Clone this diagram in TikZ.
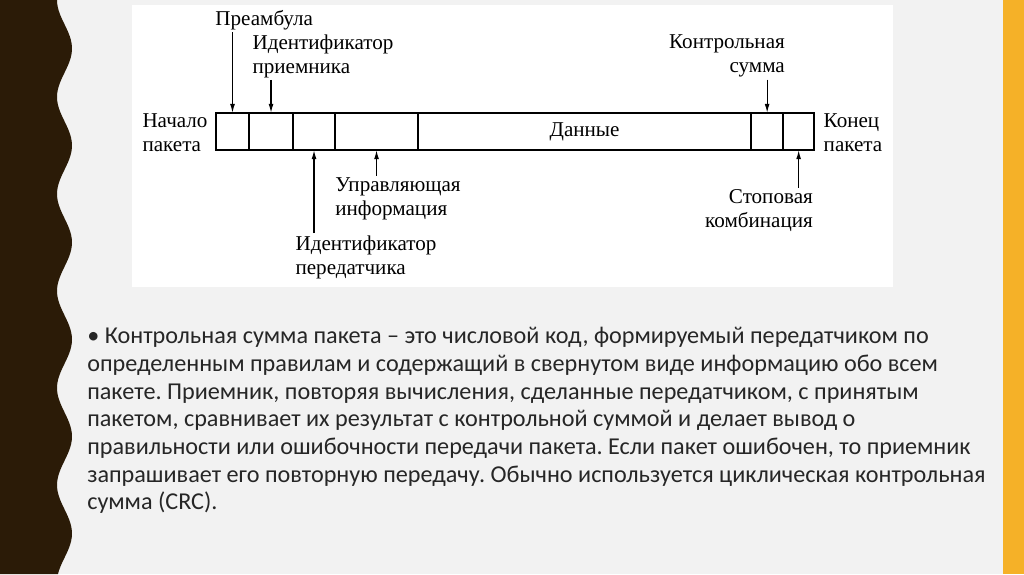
\documentclass[tikz,border=0pt]{standalone}
\usepackage{fontspec}
\setmainfont{Liberation Serif}
\newfontfamily\slidefont{Carlito}
\usepackage{tikz}
\usetikzlibrary{arrows.meta, positioning}
\frenchspacing
\definecolor{cbg}    {RGB}{242,242,242}
\definecolor{cband}  {RGB}{43, 27,  7}
\definecolor{cstripe}{RGB}{245,177, 40}
\definecolor{ctext}  {RGB}{38, 38, 38}
\tikzset{
  fld/.style={rectangle, draw=black, line width=1.1pt,
              minimum height=0.925cm, inner sep=0pt, outer sep=0pt,
              font=\fontsize{15}{17}\selectfont},
  lbl/.style={font=\fontsize{15}{17}\selectfont, inner sep=1.5pt},
  arr/.style={-{Latex[length=6.5pt,width=3.5pt]}, line width=0.9pt},
  body/.style={font=\slidefont\fontsize{17.2}{19.7}\selectfont,
               text=ctext, align=left, inner sep=0pt},
}

\begin{document}
\begin{tikzpicture}[x=0.025cm, y=-0.025cm]
  \useasboundingbox (0,0) rectangle (1024,574);
  % ── Slide background ───────────────────────────────────────────────────────
  \fill[cbg] (0,0) rectangle (1024,574);
  \fill[cband] (0,0) -- plot[domain=0:574, samples=160, smooth]
        ({64.5-7.5*cos(3.71134*\x)}, \x) -- (0,574) -- cycle;
  \fill[cstripe] (1003,0) rectangle (1024,574);
  \fill[white] (132,5) rectangle (893,287);

  % ── Packet fields ──────────────────────────────────────────────────────────
  \node[fld, minimum width=0.825cm] at (232.5,131.5) (pre) {};
  \node[fld, minimum width=1.1cm,   right=0pt of pre]  (rcv)  {};
  \node[fld, minimum width=1.05cm,  right=0pt of rcv]  (snd)  {};
  \node[fld, minimum width=2.075cm, right=0pt of snd]  (ctl)  {};
  \node[fld, minimum width=8.325cm, right=0pt of ctl]  (data) {Данные};
  \node[fld, minimum width=0.8cm,   right=0pt of data] (crc)  {};
  \node[fld, minimum width=0.775cm, right=0pt of crc]  (stop) {};

  % ── Labels ─────────────────────────────────────────────────────────────────
  \node[lbl, anchor=west]  at (213,20)  (lpre)   {Преамбула};
  \node[lbl, align=left]   at (323,56)  (lrcv)   {Идентификатор\\приемника};
  \node[lbl, align=left]   at (175,133) (lstart) {Начало\\пакета};
  \node[lbl, align=left]   at (853,133) (lend)   {Конец\\пакета};
  \node[lbl, align=left]   at (398,199) (lctl)   {Управляющая\\информация};
  \node[lbl, align=left]   at (366,257) (lsnd)   {Идентификатор\\передатчика};
  \node[lbl, align=right]  at (727,56)  (lcrc)   {Контрольная\\сумма};
  \node[lbl, align=right]  at (759,211) (lstop)  {Стоповая\\комбинация};

  % ── Arrows ─────────────────────────────────────────────────────────────────
  \draw[arr] (lpre.south -| pre)  -- (pre.north);
  \draw[arr] (lrcv.south -| rcv)  -- (rcv.north);
  \draw[arr] (lcrc.south -| crc)  -- (crc.north);
  \draw[arr] (lsnd.north -| snd)  -- (snd.south);
  \draw[arr] (lctl.north -| ctl)  -- (ctl.south);
  \draw[arr] (lstop.north -| stop) -- (stop.south);

  % ── Slide text ─────────────────────────────────────────────────────────────
  \node[body, anchor=north west] at (87,327) (txt) {%
    • Контрольная сумма пакета – это числовой код, формируемый передатчиком по\\
    определенным правилам и содержащий в свернутом виде информацию обо всем\\
    пакете. Приемник, повторяя вычисления, сделанные передатчиком, с принятым\\
    пакетом, сравнивает их результат с контрольной суммой и делает вывод о\\
    правильности или ошибочности передачи пакета. Если пакет ошибочен, то приемник\\
    запрашивает его повторную передачу. Обычно используется циклическая контрольная\\
    сумма (CRC).};
\end{tikzpicture}
\end{document}
